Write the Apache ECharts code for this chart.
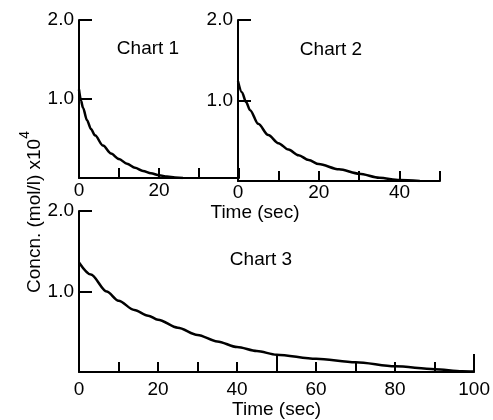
<!DOCTYPE html>
<html>
<head>
<meta charset="utf-8">
<script src="https://cdn.jsdelivr.net/npm/echarts@6/dist/echarts.min.js"></script>
<style>
  html, body { margin: 0; padding: 0; background: #fff; }
  #chart { width: 493px; height: 420px; }
</style>
</head>
<body>
<div id="chart"></div>
<script>
// chart 1
const chart1Time = [0, 0.5, 1, 2, 3, 4, 6, 8, 10, 12, 14, 16, 18, 20, 22, 24, 26]
const chart1Conc = [1.12, 0.98, 0.89, 0.73, 0.62, 0.54, 0.41, 0.31, 0.24, 0.18, 0.13, 0.09, 0.06, 0.035, 0.018, 0.006, 0]
// chart 2
const chart2Time = [0, 1, 2, 3, 5, 7.5, 10, 12.5, 15, 17.5, 20, 25, 30, 35, 40, 45]
const chart2Conc = [1.24, 1.10, 0.98, 0.88, 0.71, 0.57, 0.47, 0.39, 0.32, 0.26, 0.21, 0.145, 0.09, 0.04, 0.012, 0]
// chart 3
const chart3Time = [0, 3, 7, 10, 14, 17.5, 20, 25, 30, 35, 40, 45, 50, 60, 70, 80, 90, 97, 100]
const chart3Conc = [1.36, 1.21, 1.0, 0.885, 0.77, 0.70, 0.65, 0.55, 0.46, 0.38, 0.31, 0.26, 0.215, 0.165, 0.12, 0.07, 0.035, 0.01, 0.005]

const chartTitles = ['Chart 1', 'Chart 2', 'Chart 3']
const xName = 'Time (sec)'

const font = 'Liberation Sans'
const fontSize = 19
const ink = '#000'

const pairs = (xs, ys) => xs.map((x, i) => [x, ys[i]])

const yAxisFor = (grid) => ({
  type: 'value',
  gridIndex: grid,
  min: 0,
  max: 2,
  interval: 1,
  splitLine: { show: false },
  axisLine: { show: true, lineStyle: { color: ink, width: 2 } },
  axisTick: { show: true, inside: true, length: 13, lineStyle: { color: ink, width: 2 } },
  axisLabel: {
    margin: 5,
    color: ink,
    fontFamily: font,
    fontSize: fontSize,
    formatter: v => (v === 0 ? '' : v.toFixed(1))
  }
})

const xAxisFor = (grid, max, labelMax, margin) => ({
  type: 'value',
  gridIndex: grid,
  min: 0,
  max: max,
  interval: 10,
  splitLine: { show: false },
  axisLine: { show: true, onZero: false, lineStyle: { color: ink, width: 2 } },
  axisTick: { show: true, inside: true, length: 10, lineStyle: { color: ink, width: 2 } },
  axisLabel: {
    margin: margin,
    color: ink,
    fontFamily: font,
    fontSize: fontSize,
    showMaxLabel: true,
    formatter: v => (v % 20 === 0 && v <= labelMax ? String(v) : '')
  }
})

const curve = (idx, data) => ({
  type: 'line',
  xAxisIndex: idx,
  yAxisIndex: idx,
  data: data,
  smooth: 0.3,
  smoothMonotone: 'x',
  showSymbol: false,
  silent: true,
  lineStyle: { color: ink, width: 2.5 }
})

const titleText = (text, x, y) => ({
  type: 'text',
  x: x,
  y: y,
  style: {
    text: text,
    fill: ink,
    font: fontSize + 'px "' + font + '"',
    textAlign: 'center',
    textVerticalAlign: 'middle'
  }
})

const chart = echarts.init(document.getElementById('chart'))

// x 轴的 50、100 刻度较长
const longTicks = {
  type: 'value',
  gridIndex: 2,
  min: 0,
  max: 100,
  interval: 50,
  position: 'bottom',
  splitLine: { show: false },
  axisLine: { show: false },
  axisLabel: { show: false },
  axisTick: { show: true, inside: true, length: 18, lineStyle: { color: ink, width: 2 } }
}

chart.setOption({
  animation: false,
  backgroundColor: '#fff',
  grid: [
    { left: 79, top: 20, width: 160, height: 158 },
    { left: 238, top: 20, width: 202, height: 161 },
    { left: 79, top: 211, width: 406, height: 161 }
  ],
  xAxis: [
    xAxisFor(0, 40, 20, 3),
    xAxisFor(1, 50, 40, 2),
    Object.assign(xAxisFor(2, 100, 100, 8), {
      name: xName,
      nameLocation: 'middle',
      nameGap: 25,
      nameTextStyle: { color: ink, fontFamily: font, fontSize: fontSize }
    }),
    longTicks
  ],
  yAxis: [yAxisFor(0), yAxisFor(1), yAxisFor(2)],
  series: [
    curve(0, pairs(chart1Time, chart1Conc)),
    curve(1, pairs(chart2Time, chart2Conc)),
    curve(2, pairs(chart3Time, chart3Conc))
  ],
  graphic: [
    titleText(chartTitles[0], 148, 49),
    titleText(chartTitles[1], 331, 50),
    titleText(chartTitles[2], 261, 260),
    titleText(xName, 255, 213),
    {
      type: 'text',
      x: 31,
      y: 212,
      rotation: Math.PI / 2,
      style: {
        text: '{m|Concn. (mol/l) x10}{s|4}',
        textAlign: 'center',
        textVerticalAlign: 'middle',
        rich: {
          m: { fontFamily: font, fontSize: fontSize, color: ink, lineHeight: 26, verticalAlign: 'bottom' },
          s: { fontFamily: font, fontSize: 14, color: ink, lineHeight: 26, verticalAlign: 'top' }
        }
      }
    }
  ]
})
</script>
</body>
</html>
